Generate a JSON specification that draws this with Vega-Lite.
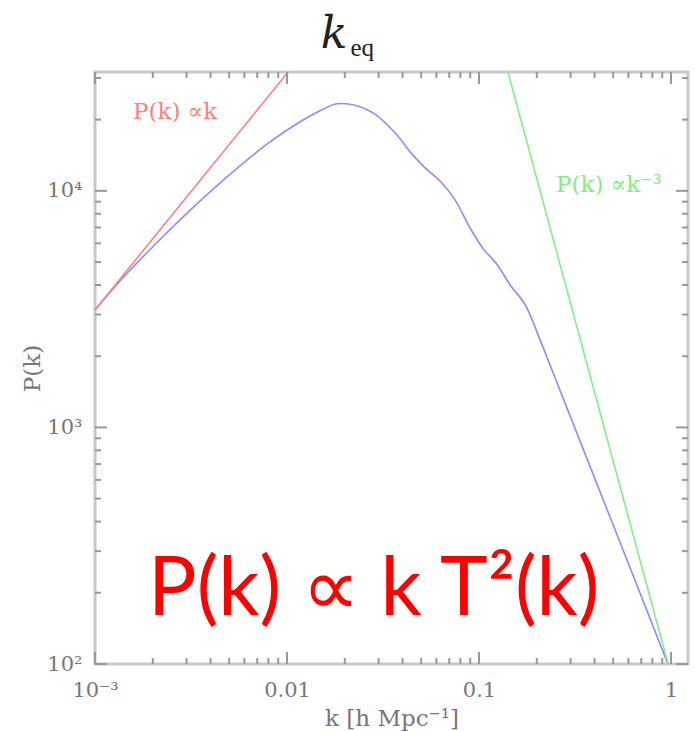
{
  "$schema": "https://vega.github.io/schema/vega-lite/v6.json",
  "width": 593,
  "height": 592,
  "autosize": {"type": "none"},
  "padding": {"left": 95, "top": 72, "right": 6, "bottom": 67},
  "background": "white",
  "config": {
    "view": {"stroke": "#c8c8c8", "strokeWidth": 3},
    "axis": {
      "grid": false, "domain": false, "ticks": false,
      "labelFlush": false, "labelOverlap": false,
      "labelFont": "DejaVu Serif", "labelFontSize": 21, "labelColor": "#777",
      "titleFont": "DejaVu Serif", "titleFontSize": 23, "titleFontWeight": "normal", "titleColor": "#777"
    }
  },
  "datasets": {
    "xmajor": [{"k": 0.001}, {"k": 0.01}, {"k": 0.1}, {"k": 1}],
    "xminor": [{"k": 0.002}, {"k": 0.003}, {"k": 0.004}, {"k": 0.005}, {"k": 0.006}, {"k": 0.007}, {"k": 0.008}, {"k": 0.009},
               {"k": 0.02}, {"k": 0.03}, {"k": 0.04}, {"k": 0.05}, {"k": 0.06}, {"k": 0.07}, {"k": 0.08}, {"k": 0.09},
               {"k": 0.2}, {"k": 0.3}, {"k": 0.4}, {"k": 0.5}, {"k": 0.6}, {"k": 0.7}, {"k": 0.8}, {"k": 0.9}],
    "ymajor": [{"P": 100}, {"P": 1000}, {"P": 10000}],
    "yminor": [{"P": 200}, {"P": 300}, {"P": 400}, {"P": 500}, {"P": 600}, {"P": 700}, {"P": 800}, {"P": 900},
               {"P": 2000}, {"P": 3000}, {"P": 4000}, {"P": 5000}, {"P": 6000}, {"P": 7000}, {"P": 8000}, {"P": 9000},
               {"P": 20000}, {"P": 30000}]
  },
  "layer": [
    {
      "data": {"values": [
        {"k": 0.001, "P": 3140}, {"k": 0.00135, "P": 4160}, {"k": 0.00193, "P": 5640},
        {"k": 0.00277, "P": 7540}, {"k": 0.00397, "P": 9910}, {"k": 0.00569, "P": 12760},
        {"k": 0.00815, "P": 16100}, {"k": 0.0117, "P": 19590}, {"k": 0.01486, "P": 21800},
        {"k": 0.0182, "P": 23330}, {"k": 0.0226, "P": 23000}, {"k": 0.0287, "P": 21100},
        {"k": 0.0365, "P": 17600}, {"k": 0.0448, "P": 14300}, {"k": 0.0524, "P": 12500},
        {"k": 0.0627, "P": 11000}, {"k": 0.075, "P": 9160}, {"k": 0.0897, "P": 6980},
        {"k": 0.105, "P": 5700}, {"k": 0.124, "P": 4900}, {"k": 0.145, "P": 4010},
        {"k": 0.174, "P": 3300}, {"k": 0.208, "P": 2344}, {"k": 0.264, "P": 1436},
        {"k": 0.379, "P": 683}, {"k": 0.45, "P": 480}, {"k": 0.59, "P": 275},
        {"k": 0.964, "P": 100}
      ]},
      "mark": {"type": "line", "color": "#8c8cff", "strokeWidth": 1.6, "clip": true, "interpolate": "catmull-rom"},
      "encoding": {
        "x": {"field": "k", "type": "quantitative",
          "scale": {"type": "log", "domain": [0.001, 1.226], "nice": false},
          "axis": {"orient": "bottom", "values": [0.001, 0.01, 0.1, 1], "labelPadding": 15,
            "labelExpr": "datum.value < 0.005 ? '10⁻³' : datum.value < 0.05 ? '0.01' : datum.value < 0.5 ? '0.1' : '1'",
            "title": "k [h Mpc⁻¹]", "titlePadding": 7}},
        "y": {"field": "P", "type": "quantitative",
          "scale": {"type": "log", "domain": [100, 31800], "nice": false},
          "axis": {"orient": "left", "values": [100, 1000, 10000], "labelPadding": 13,
            "labelExpr": "datum.value < 500 ? '10²' : datum.value < 5000 ? '10³' : '10⁴'",
            "title": "P(k)", "titlePadding": 2}}
      }
    },
    {
      "data": {"values": [{"k": 0.001, "P": 3140}, {"k": 0.0105, "P": 32970}]},
      "mark": {"type": "line", "color": "#ff8080", "strokeWidth": 1.6, "clip": true},
      "encoding": {
        "x": {"field": "k", "type": "quantitative"},
        "y": {"field": "P", "type": "quantitative"}
      }
    },
    {
      "data": {"values": [{"k": 0.13, "P": 40965}, {"k": 1.0, "P": 90}]},
      "mark": {"type": "line", "color": "#80f080", "strokeWidth": 1.6, "clip": true},
      "encoding": {
        "x": {"field": "k", "type": "quantitative"},
        "y": {"field": "P", "type": "quantitative"}
      }
    },
    {
      "data": {"name": "xmajor"},
      "mark": {"type": "tick", "orient": "vertical", "color": "#999", "size": 12, "thickness": 2, "yOffset": -6, "opacity": 1},
      "encoding": {"x": {"field": "k", "type": "quantitative"}, "y": {"datum": 100, "type": "quantitative"}}
    },
    {
      "data": {"name": "xmajor"},
      "mark": {"type": "tick", "orient": "vertical", "color": "#999", "size": 12, "thickness": 2, "yOffset": 6, "opacity": 1},
      "encoding": {"x": {"field": "k", "type": "quantitative"}, "y": {"datum": 31800, "type": "quantitative"}}
    },
    {
      "data": {"name": "xminor"},
      "mark": {"type": "tick", "orient": "vertical", "color": "#999", "size": 6, "thickness": 2, "yOffset": -3, "opacity": 1},
      "encoding": {"x": {"field": "k", "type": "quantitative"}, "y": {"datum": 100, "type": "quantitative"}}
    },
    {
      "data": {"name": "xminor"},
      "mark": {"type": "tick", "orient": "vertical", "color": "#999", "size": 6, "thickness": 2, "yOffset": 3, "opacity": 1},
      "encoding": {"x": {"field": "k", "type": "quantitative"}, "y": {"datum": 31800, "type": "quantitative"}}
    },
    {
      "data": {"name": "ymajor"},
      "mark": {"type": "tick", "orient": "horizontal", "color": "#999", "size": 12, "thickness": 2, "xOffset": 6, "opacity": 1},
      "encoding": {"y": {"field": "P", "type": "quantitative"}, "x": {"datum": 0.001, "type": "quantitative"}}
    },
    {
      "data": {"name": "ymajor"},
      "mark": {"type": "tick", "orient": "horizontal", "color": "#999", "size": 12, "thickness": 2, "xOffset": -6, "opacity": 1},
      "encoding": {"y": {"field": "P", "type": "quantitative"}, "x": {"datum": 1.226, "type": "quantitative"}}
    },
    {
      "data": {"name": "yminor"},
      "mark": {"type": "tick", "orient": "horizontal", "color": "#999", "size": 6, "thickness": 2, "xOffset": 3, "opacity": 1},
      "encoding": {"y": {"field": "P", "type": "quantitative"}, "x": {"datum": 0.001, "type": "quantitative"}}
    },
    {
      "data": {"name": "yminor"},
      "mark": {"type": "tick", "orient": "horizontal", "color": "#999", "size": 6, "thickness": 2, "xOffset": -3, "opacity": 1},
      "encoding": {"y": {"field": "P", "type": "quantitative"}, "x": {"datum": 1.226, "type": "quantitative"}}
    },
    {
      "data": {"values": [{"k": 0.001578, "P": 21600, "label": "P(k)   ∝k"}]},
      "mark": {"type": "text", "color": "#ff8080", "font": "DejaVu Serif", "fontSize": 23, "align": "left", "baseline": "middle"},
      "encoding": {
        "x": {"field": "k", "type": "quantitative"},
        "y": {"field": "P", "type": "quantitative"},
        "text": {"field": "label"}
      }
    },
    {
      "data": {"values": [{"k": 0.252, "P": 10600, "label": "P(k)   ∝k⁻³"}]},
      "mark": {"type": "text", "color": "#80f080", "font": "DejaVu Serif", "fontSize": 23, "align": "left", "baseline": "middle"},
      "encoding": {
        "x": {"field": "k", "type": "quantitative"},
        "y": {"field": "P", "type": "quantitative"},
        "text": {"field": "label"}
      }
    },
    {
      "data": {"values": [{"k": 0.00189, "P": 161, "label": "P(k) ∝ k T²(k)"}]},
      "mark": {"type": "text", "color": "#ff0000", "font": "Lato", "fontSize": 81, "align": "left", "baseline": "alphabetic"},
      "encoding": {
        "x": {"field": "k", "type": "quantitative"},
        "y": {"field": "P", "type": "quantitative"},
        "text": {"field": "label"}
      }
    },
    {
      "data": {"values": [{"k": 0.0150, "P": 40300, "label": "k"}]},
      "mark": {"type": "text", "color": "#222", "font": "DejaVu Serif", "fontStyle": "italic", "fontSize": 44, "align": "left", "baseline": "alphabetic"},
      "encoding": {
        "x": {"field": "k", "type": "quantitative"},
        "y": {"field": "P", "type": "quantitative"},
        "text": {"field": "label"}
      }
    },
    {
      "data": {"values": [{"k": 0.0214, "P": 37200, "label": "eq"}]},
      "mark": {"type": "text", "color": "#222", "font": "Liberation Serif", "fontSize": 25, "align": "left", "baseline": "alphabetic"},
      "encoding": {
        "x": {"field": "k", "type": "quantitative"},
        "y": {"field": "P", "type": "quantitative"},
        "text": {"field": "label"}
      }
    }
  ]
}
